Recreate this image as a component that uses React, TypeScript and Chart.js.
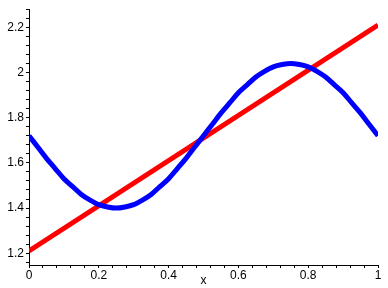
import React, { useEffect, useRef } from "react";
import { Chart, registerables } from "chart.js";

Chart.register(...registerables);

const xValues = [
  0, 0.025, 0.05, 0.075, 0.1, 0.125, 0.15, 0.175, 0.2, 0.225, 0.25, 0.275, 0.3, 0.325, 0.35, 0.375, 0.4, 0.425, 0.45, 0.475, 0.5,
  0.525, 0.55, 0.575, 0.6, 0.625, 0.65, 0.675, 0.7, 0.725, 0.75, 0.775, 0.8, 0.825, 0.85, 0.875, 0.9, 0.925, 0.95, 0.975, 1,
];
const blueValues = [
  1.72, 1.67, 1.62, 1.575, 1.53, 1.495, 1.46, 1.435, 1.415, 1.405, 1.40, 1.405, 1.415, 1.435, 1.46, 1.495, 1.53, 1.575, 1.62, 1.67, 1.72,
  1.77, 1.82, 1.865, 1.91, 1.945, 1.98, 2.005, 2.025, 2.035, 2.04, 2.035, 2.025, 2.005, 1.98, 1.945, 1.91, 1.865, 1.82, 1.77, 1.72,
];
const redX = [0, 1];
const redValues = [1.21, 2.21];

const xMin = 0;
const xMax = 1;
const yMin = 1.148;
const yMax = 2.28;
const minorStep = 0.04;
const majorStep = 0.2;

const isMajor = (v: number) => Math.abs(v / majorStep - Math.round(v / majorStep)) < 1e-6;
const fmt = (v: number) => String(Math.round(v * 10) / 10);

export default function App() {
  const ref = useRef<HTMLCanvasElement | null>(null);
  useEffect(() => {
    if (!ref.current) return;
    const font = { family: "'Liberation Sans', Arial, sans-serif", size: 12 };
    const chart = new Chart(ref.current, {
      type: "line",
      data: {
        datasets: [
          {
            data: xValues.map((x, i) => ({ x, y: blueValues[i] })),
            borderColor: "#0000FF",
            borderWidth: 5,
            pointRadius: 0,
            cubicInterpolationMode: "monotone",
            fill: false,
            order: 0,
          },
          {
            data: redX.map((x, i) => ({ x, y: redValues[i] })),
            borderColor: "#FF0000",
            borderWidth: 5,
            pointRadius: 0,
            fill: false,
            order: 1,
          },
        ],
      },
      options: {
        responsive: false,
        animation: false,
        layout: { padding: { top: 3, right: 10, left: 0, bottom: 0 } },
        plugins: { legend: { display: false }, tooltip: { enabled: false } },
        scales: {
          x: {
            type: "linear",
            min: xMin,
            max: xMax,
            afterFit: (s: any) => { s.height = 23; },
            border: { display: true, color: "#000", width: 1 },
            grid: { drawOnChartArea: false, drawTicks: true, tickLength: 3, tickColor: "#000", tickWidth: 1 },
            ticks: {
              stepSize: minorStep,
              autoSkip: false,
              includeBounds: false,
              maxRotation: 0,
              padding: 0,
              color: "#000",
              font,
              callback: (v: any) => (isMajor(Number(v)) ? fmt(Number(v)) : ""),
            },
            title: { display: true, text: "x", color: "#000", font, padding: { top: 0, bottom: 0 } },
          },
          y: {
            type: "linear",
            min: yMin,
            max: yMax,
            afterFit: (s: any) => { s.width = 29; },
            border: { display: true, color: "#000", width: 1 },
            grid: { drawOnChartArea: false, drawTicks: true, tickLength: 3, tickColor: "#000", tickWidth: 1 },
            ticks: {
              stepSize: minorStep,
              autoSkip: false,
              includeBounds: false,
              padding: 2,
              color: "#000",
              font,
              callback: (v: any) => (isMajor(Number(v)) ? fmt(Number(v)) : ""),
            },
          },
        },
      },
    });
    return () => chart.destroy();
  }, []);
  return (
    <div style={{ position: "fixed", left: 0, top: 0, width: 388, height: 288, background: "#fff" }}>
      <canvas ref={ref} width={388} height={288} style={{ display: "block" }} />
    </div>
  );
}
